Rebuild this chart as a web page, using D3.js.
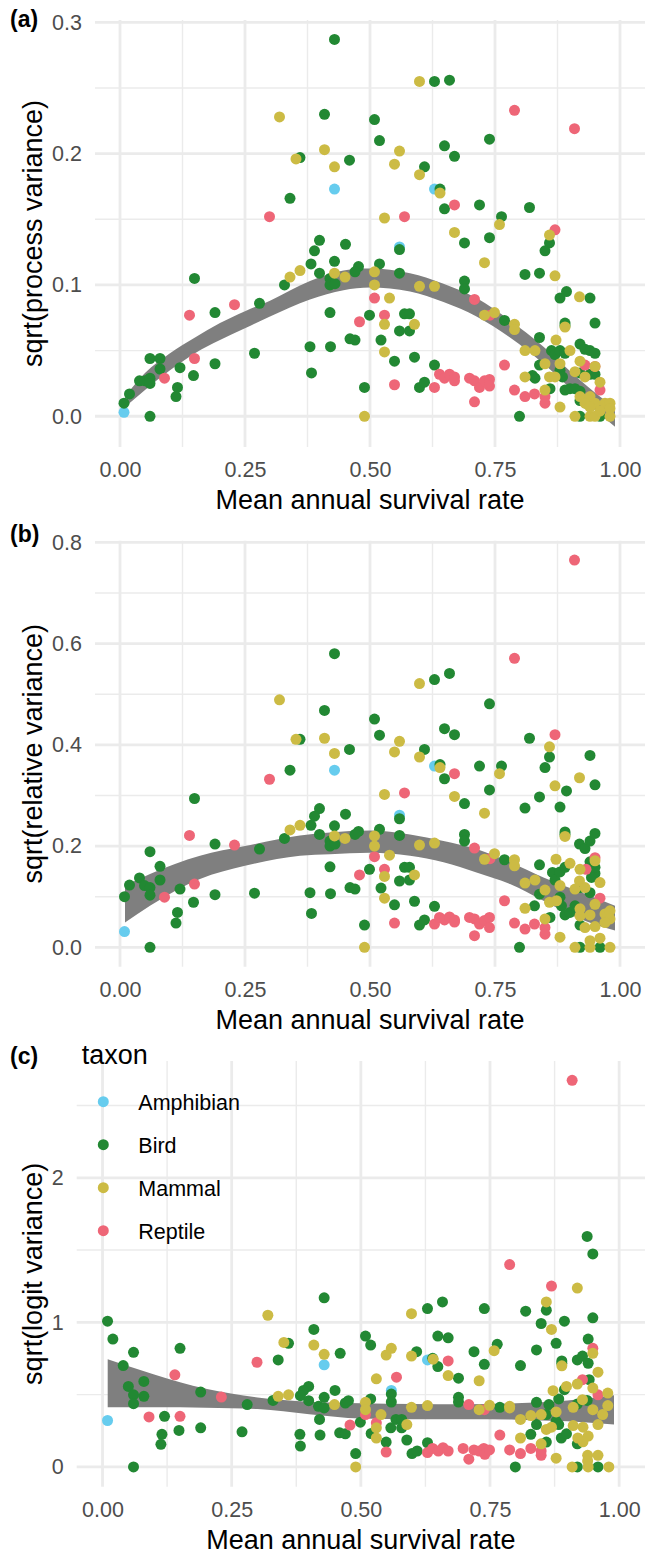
<!DOCTYPE html>
<html lang="en">
<head>
<meta charset="utf-8">
<script src="https://d3js.org/d3.v7.min.js"></script>
<style>
  body { margin: 0; background: #fff; }
  text { font-family: "Liberation Sans", Arial, sans-serif; }
</style>
</head>
<body>
<svg id="chart" width="645" height="1554"></svg>

<script>
// taxa and colours
const taxa = ["Amphibian", "Bird", "Mammal", "Reptile"];
const taxonColors = ["#66CCEE", "#228833", "#CCBB44", "#EE6677"];
const drawOrder = ["Amphibian", "Bird", "Reptile", "Mammal"];

const xTicks = [0, 0.25, 0.5, 0.75, 1];
const xTickLabels = ["0.00", "0.25", "0.50", "0.75", "1.00"];
const xMinor = [0.125, 0.375, 0.625, 0.875];

// ---- panel (a): sqrt(process variance), [survival, value]
const procAmphibian = [[0.008,0.003],[0.429,0.173],[0.559,0.129],[0.629,0.173]];
const procBird = [[0.008,0.010],[0.019,0.017],[0.039,0.027],[0.05,0.027],[0.06,0.029],[0.06,0.025],[0.06,0.044],[0.08,0.044],[0.08,0.036],[0.06,0.0],[0.12,0.037],[0.115,0.022],[0.112,0.015],[0.147,0.031],[0.149,0.105],[0.19,0.079],[0.19,0.040],[0.279,0.086],[0.269,0.048],[0.34,0.166],[0.36,0.197],[0.409,0.230],[0.399,0.134],[0.389,0.126],[0.382,0.116],[0.399,0.109],[0.329,0.100],[0.38,0.053],[0.383,0.033],
  [0.429,0.287],[0.459,0.195],[0.451,0.131],[0.429,0.118],[0.42,0.105],[0.42,0.100],[0.43,0.101],[0.477,0.114],[0.47,0.110],[0.42,0.079],[0.499,0.077],[0.46,0.059],[0.47,0.058],[0.421,0.053],[0.489,0.022],
  [0.509,0.226],[0.519,0.210],[0.559,0.127],[0.519,0.116],[0.559,0.109],[0.569,0.078],[0.579,0.078],[0.559,0.065],[0.579,0.065],[0.522,0.058],[0.549,0.042],[0.589,0.045],[0.599,0.022],[0.609,0.026],[0.629,0.039],
  [0.629,0.255],[0.659,0.256],[0.609,0.190],[0.64,0.173],[0.649,0.206],[0.669,0.198],[0.649,0.158],[0.689,0.132],[0.719,0.161],[0.739,0.211],[0.763,0.152],[0.739,0.136],[0.689,0.103],[0.689,0.097],[0.769,0.073],[0.799,0.0],
  [0.819,0.159],[0.859,0.132],[0.85,0.126],[0.81,0.108],[0.839,0.109],[0.893,0.095],[0.88,0.090],[0.94,0.090],[0.89,0.071],[0.89,0.069],[0.95,0.071],[0.839,0.060],[0.863,0.050],[0.87,0.047],[0.92,0.055],[0.93,0.051],[0.94,0.050],[0.95,0.048],[0.88,0.050],[0.89,0.048],[0.839,0.039],[0.825,0.031],[0.83,0.029],[0.88,0.035],[0.885,0.030],[0.86,0.021],[0.89,0.020],[0.9,0.021],[0.92,0.033],[0.94,0.032],[0.95,0.032],[0.92,0.019],[0.91,0.021],[0.92,0.012],[0.92,0.0],[0.96,0.0],[0.932,0.010]];
const procMammal = [[0.319,0.228],[0.352,0.196],[0.409,0.203],[0.36,0.111],[0.34,0.106],[0.429,0.190],[0.429,0.109],[0.45,0.106],[0.489,0.0],[0.559,0.202],[0.549,0.192],[0.529,0.151],[0.509,0.110],[0.509,0.100],[0.539,0.090],[0.529,0.070],[0.589,0.070],[0.529,0.049],[0.599,0.255],[0.599,0.184],[0.64,0.170],[0.669,0.140],[0.759,0.146],[0.729,0.117],[0.599,0.099],[0.629,0.099],[0.729,0.077],[0.749,0.079],[0.789,0.070],[0.789,0.066],
  [0.859,0.138],[0.87,0.107],[0.919,0.091],[0.89,0.068],[0.872,0.058],[0.81,0.050],[0.83,0.050],[0.9,0.050],[0.81,0.030],[0.85,0.040],[0.88,0.040],[0.859,0.030],[0.87,0.030],[0.85,0.020],[0.88,0.007],[0.92,0.042],[0.91,0.034],[0.93,0.030],[0.95,0.038],[0.96,0.026],[0.92,0.015],[0.94,0.015],[0.93,0.010],[0.95,0.010],[0.97,0.010],[0.98,0.010],[0.98,0.006],[0.91,0.0],[0.94,0.0],[0.95,0.0],[0.98,0.0],[0.94,0.007],[0.96,0.004]];
const procReptile = [[0.089,0.029],[0.149,0.044],[0.139,0.077],[0.229,0.085],[0.299,0.152],[0.479,0.072],[0.569,0.152],[0.509,0.090],[0.529,0.077],[0.549,0.024],[0.629,0.022],[0.639,0.032],[0.649,0.029],[0.659,0.032],[0.669,0.027],[0.669,0.030],[0.699,0.029],[0.709,0.027],[0.719,0.022],[0.729,0.027],[0.739,0.028],[0.739,0.023],[0.709,0.011],[0.669,0.161],[0.709,0.089],[0.74,0.077],[0.769,0.039],[0.789,0.020],[0.81,0.015],[0.829,0.017],[0.85,0.015],[0.85,0.010],[0.789,0.233],[0.909,0.219],[0.87,0.142],[0.93,0.039],[0.95,0.038],[0.96,0.020]];
const procRibX  = [0.01, 0.05, 0.1, 0.15, 0.2, 0.25, 0.3, 0.38, 0.447, 0.5, 0.58, 0.647, 0.713, 0.78, 0.847, 0.913, 0.99];
const procRibLo = [0.007, 0.020, 0.035, 0.048, 0.058, 0.067, 0.076, 0.089, 0.096, 0.098, 0.095, 0.087, 0.076, 0.060, 0.040, 0.017, -0.008];
const procRibHi = [0.015, 0.033, 0.048, 0.060, 0.071, 0.080, 0.088, 0.103, 0.111, 0.1125, 0.109, 0.101, 0.090, 0.073, 0.053, 0.030, 0.006];

// ---- panel (b): sqrt(relative variance)
const relAmphibian = [[0.009,0.031],[0.429,0.350],[0.559,0.261],[0.629,0.358]];
const relBird = [[0.009,0.100],[0.019,0.123],[0.039,0.137],[0.049,0.122],[0.06,0.118],[0.06,0.103],[0.06,0.189],[0.08,0.160],[0.08,0.133],[0.06,0.0],[0.12,0.115],[0.115,0.069],[0.112,0.048],[0.147,0.089],[0.149,0.294],[0.19,0.204],[0.19,0.104],[0.279,0.194],[0.269,0.107],[0.34,0.350],[0.36,0.411],[0.409,0.468],[0.399,0.274],[0.389,0.259],[0.382,0.241],[0.399,0.223],[0.329,0.215],[0.38,0.108],[0.383,0.067],
  [0.429,0.580],[0.459,0.391],[0.451,0.263],[0.429,0.240],[0.42,0.210],[0.42,0.200],[0.43,0.204],[0.477,0.229],[0.47,0.223],[0.42,0.159],[0.499,0.154],[0.46,0.118],[0.47,0.115],[0.421,0.106],[0.489,0.044],
  [0.509,0.451],[0.519,0.419],[0.559,0.254],[0.519,0.233],[0.559,0.221],[0.569,0.158],[0.579,0.158],[0.559,0.131],[0.579,0.133],[0.522,0.117],[0.549,0.084],[0.589,0.091],[0.599,0.044],[0.609,0.054],[0.629,0.081],
  [0.629,0.529],[0.659,0.541],[0.609,0.391],[0.64,0.361],[0.649,0.432],[0.669,0.420],[0.649,0.333],[0.689,0.284],[0.719,0.358],[0.739,0.481],[0.763,0.358],[0.739,0.311],[0.689,0.223],[0.689,0.210],[0.769,0.173],[0.799,0.0],
  [0.819,0.413],[0.859,0.376],[0.85,0.355],[0.81,0.275],[0.839,0.297],[0.893,0.309],[0.88,0.277],[0.94,0.379],[0.89,0.228],[0.89,0.223],[0.95,0.321],[0.839,0.163],[0.865,0.148],[0.87,0.133],[0.919,0.204],[0.93,0.195],[0.94,0.210],[0.95,0.225],[0.88,0.149],[0.89,0.158],[0.839,0.105],[0.829,0.082],[0.88,0.099],[0.883,0.082],[0.86,0.059],[0.89,0.064],[0.9,0.069],[0.92,0.118],[0.94,0.108],[0.95,0.146],[0.943,0.138],[0.92,0.044],[0.91,0.082],[0.92,0.0],[0.96,0.0],[0.94,0.169],[0.95,0.158]];
const relMammal = [[0.319,0.489],[0.352,0.411],[0.409,0.413],[0.36,0.241],[0.34,0.232],[0.429,0.383],[0.429,0.220],[0.45,0.215],[0.489,0.0],[0.559,0.407],[0.549,0.386],[0.529,0.302],[0.509,0.220],[0.509,0.200],[0.539,0.182],[0.529,0.140],[0.589,0.143],[0.529,0.097],[0.599,0.521],[0.599,0.376],[0.64,0.355],[0.669,0.298],[0.759,0.343],[0.729,0.265],[0.599,0.202],[0.629,0.206],[0.729,0.174],[0.749,0.185],[0.789,0.173],[0.789,0.161],
  [0.859,0.396],[0.87,0.319],[0.919,0.335],[0.89,0.219],[0.872,0.174],[0.81,0.127],[0.83,0.133],[0.9,0.166],[0.81,0.077],[0.85,0.113],[0.88,0.122],[0.859,0.089],[0.873,0.092],[0.85,0.056],[0.88,0.020],[0.919,0.131],[0.91,0.115],[0.93,0.118],[0.95,0.171],[0.96,0.128],[0.92,0.062],[0.94,0.064],[0.93,0.039],[0.95,0.041],[0.97,0.066],[0.98,0.072],[0.98,0.056],[0.91,0.0],[0.94,0.013],[0.95,0.085],[0.98,0.0],[0.94,0.0],[0.96,0.018],[0.97,0.049],[0.92,0.154],[0.92,0.076]];
const relReptile = [[0.089,0.099],[0.149,0.125],[0.139,0.221],[0.229,0.202],[0.299,0.332],[0.479,0.143],[0.569,0.305],[0.509,0.179],[0.529,0.154],[0.549,0.048],[0.629,0.046],[0.639,0.059],[0.649,0.054],[0.659,0.060],[0.669,0.054],[0.669,0.050],[0.699,0.059],[0.709,0.056],[0.719,0.046],[0.729,0.053],[0.739,0.059],[0.739,0.039],[0.709,0.023],[0.669,0.343],[0.709,0.196],[0.74,0.175],[0.769,0.092],[0.789,0.048],[0.81,0.036],[0.829,0.046],[0.85,0.039],[0.85,0.026],[0.789,0.571],[0.909,0.765],[0.87,0.420],[0.932,0.154],[0.95,0.177],[0.96,0.097]];
const relRibX  = [0.01, 0.06, 0.16, 0.25, 0.36, 0.42, 0.5, 0.58, 0.647, 0.713, 0.78, 0.847, 0.913, 0.99];
const relRibLo = [0.049, 0.082, 0.135, 0.161, 0.181, 0.184, 0.187, 0.181, 0.168, 0.148, 0.125, 0.092, 0.059, 0.033];
const relRibHi = [0.122, 0.145, 0.181, 0.200, 0.221, 0.227, 0.231, 0.223, 0.210, 0.194, 0.168, 0.138, 0.112, 0.082];

// ---- panel (c): sqrt(logit variance)
const logitAmphibian = [[0.0097,0.321],[0.429,0.706],[0.559,0.529],[0.629,0.740]];
const logitBird = [[0.0097,1.008],[0.02,0.884],[0.04,0.701],[0.05,0.557],[0.06,0.499],[0.06,0.437],[0.06,0.793],[0.08,0.591],[0.08,0.488],[0.06,0.0],[0.12,0.350],[0.115,0.225],[0.113,0.156],[0.148,0.252],[0.15,0.820],[0.19,0.518],[0.19,0.270],[0.28,0.431],[0.27,0.243],[0.34,0.740],[0.36,0.855],[0.429,1.170],[0.409,0.951],[0.399,0.557],[0.389,0.529],[0.383,0.493],[0.399,0.458],[0.33,0.460],[0.382,0.225],[0.383,0.144],[0.421,0.220],[0.42,0.328],[0.418,0.419],[0.429,0.408],[0.429,0.481],
  [0.46,0.786],[0.45,0.529],[0.476,0.458],[0.47,0.442],[0.459,0.236],[0.47,0.229],[0.499,0.309],[0.49,0.092],[0.509,0.905],[0.519,0.843],[0.559,0.504],[0.559,0.449],[0.519,0.470],[0.568,0.328],[0.579,0.328],[0.579,0.270],[0.558,0.270],[0.52,0.231],[0.549,0.172],[0.589,0.186],[0.599,0.092],[0.609,0.110],[0.629,0.167],
  [0.629,1.095],[0.658,1.141],[0.649,0.905],[0.669,0.893],[0.608,0.797],[0.639,0.751],[0.649,0.694],[0.689,0.614],[0.719,0.797],[0.739,1.095],[0.764,0.848],[0.739,0.710],[0.689,0.481],[0.689,0.449],[0.769,0.412],[0.799,0.0],
  [0.819,1.077],[0.859,1.084],[0.849,0.992],[0.84,0.809],[0.809,0.701],[0.894,1.008],[0.878,0.855],[0.938,1.594],[0.949,1.473],[0.949,1.031],[0.889,0.733],[0.889,0.717],[0.94,0.884],[0.919,0.740],[0.929,0.767],[0.94,0.717],[0.942,0.603],[0.84,0.447],[0.864,0.431],[0.859,0.362],[0.883,0.470],[0.894,0.534],[0.938,0.460],[0.919,0.435],[0.84,0.293],[0.829,0.225],[0.878,0.316],[0.883,0.293],[0.859,0.172],[0.888,0.200],[0.898,0.229],[0.919,0.160],[0.919,0.0],[0.959,0.0]];
const logitMammal = [[0.32,1.049],[0.351,0.861],[0.409,0.843],[0.36,0.499],[0.34,0.488],[0.429,0.779],[0.449,0.431],[0.49,0.0],[0.559,0.820],[0.549,0.774],[0.53,0.609],[0.509,0.447],[0.509,0.396],[0.539,0.362],[0.53,0.270],[0.589,0.293],[0.53,0.200],[0.598,1.060],[0.598,0.767],[0.64,0.745],[0.669,0.632],[0.758,0.804],[0.729,0.596],[0.598,0.412],[0.629,0.424],[0.729,0.396],[0.749,0.426],[0.788,0.419],[0.788,0.408],
  [0.859,1.141],[0.869,0.951],[0.919,1.237],[0.889,0.699],[0.872,0.527],[0.809,0.328],[0.829,0.355],[0.898,0.557],[0.809,0.200],[0.849,0.362],[0.878,0.380],[0.859,0.259],[0.869,0.275],[0.849,0.160],[0.878,0.060],[0.919,0.573],[0.911,0.412],[0.929,0.465],[0.949,0.786],[0.959,0.655],[0.949,0.545],[0.911,0.286],[0.93,0.275],[0.94,0.213],[0.93,0.174],[0.92,0.200],[0.978,0.511],[0.978,0.424],[0.968,0.362],[0.949,0.396],[0.959,0.293],[0.909,0.0],[0.94,0.0],[0.98,0.0],[0.939,0.080],[0.959,0.080],[0.939,0.041]];
const logitReptile = [[0.09,0.346],[0.15,0.350],[0.14,0.637],[0.23,0.483],[0.299,0.724],[0.479,0.289],[0.569,0.621],[0.509,0.362],[0.53,0.305],[0.549,0.103],[0.629,0.099],[0.639,0.128],[0.65,0.110],[0.659,0.133],[0.669,0.110],[0.698,0.128],[0.709,0.053],[0.719,0.117],[0.729,0.110],[0.738,0.128],[0.74,0.087],[0.749,0.117],[0.669,0.733],[0.709,0.431],[0.739,0.396],[0.769,0.220],[0.788,0.117],[0.809,0.092],[0.829,0.128],[0.849,0.110],[0.849,0.080],[0.788,1.400],[0.909,2.674],[0.869,1.251],[0.929,0.603],[0.949,0.820],[0.959,0.499]];
const logitRibX  = [0.01, 0.1, 0.2, 0.3, 0.4, 0.5, 0.6, 0.7, 0.8, 0.9, 0.99];
const logitRibLo = [0.412, 0.412, 0.410, 0.400, 0.365, 0.335, 0.330, 0.330, 0.327, 0.315, 0.293];
const logitRibHi = [0.745, 0.640, 0.540, 0.480, 0.450, 0.440, 0.435, 0.433, 0.440, 0.460, 0.495];

const svg = d3.select("#chart");
svg.append("rect").attr("width", 645).attr("height", 1554).attr("fill", "#fff");

const color = d3.scaleOrdinal().domain(taxa).range(taxonColors);
const gridCol = "#EBEBEB";

function drawPanel(cfg) {
  const x = d3.scaleLinear().domain([-0.05, 1.05]).range([cfg.left, 645]);
  const y = d3.scaleLinear().domain(cfg.yDomain).range([cfg.bottom, cfg.top]);
  const g = svg.append("g");

  // grid
  g.selectAll(null).data(xMinor).join("line")
    .attr("x1", d => x(d)).attr("x2", d => x(d))
    .attr("y1", cfg.top).attr("y2", cfg.bottom)
    .attr("stroke", gridCol).attr("stroke-width", 1.4);
  g.selectAll(null).data(cfg.yMinor).join("line")
    .attr("x1", cfg.left).attr("x2", 645)
    .attr("y1", d => y(d)).attr("y2", d => y(d))
    .attr("stroke", gridCol).attr("stroke-width", 1.4);
  g.selectAll(null).data(xTicks).join("line")
    .attr("x1", d => x(d)).attr("x2", d => x(d))
    .attr("y1", cfg.top).attr("y2", cfg.bottom)
    .attr("stroke", gridCol).attr("stroke-width", 2.8);
  g.selectAll(null).data(cfg.yTicks).join("line")
    .attr("x1", cfg.left).attr("x2", 645)
    .attr("y1", d => y(d)).attr("y2", d => y(d))
    .attr("stroke", gridCol).attr("stroke-width", 2.8);

  // smoother ribbon
  const rib = cfg.ribX.map((v, i) => ({x: v, lo: cfg.ribLo[i], hi: cfg.ribHi[i]}));
  const area = d3.area()
    .x(d => x(d.x)).y0(d => y(d.lo)).y1(d => y(d.hi))
    .curve(d3.curveMonotoneX);
  g.append("path").datum(rib).attr("d", area).attr("fill", "#7F7F7F");

  // points
  drawOrder.forEach(t => {
    g.selectAll(null).data(cfg.points[t]).join("circle")
      .attr("cx", d => x(d[0])).attr("cy", d => y(d[1]))
      .attr("r", 5.5).attr("fill", color(t));
  });

  // axes
  const ax = g.append("g").attr("transform", `translate(${cfg.left},0)`)
    .call(d3.axisLeft(y).tickValues(cfg.yTicks).tickFormat((d, i) => cfg.yLabels[i]).tickSize(0).tickPadding(13));
  const bx = g.append("g").attr("transform", `translate(0,${cfg.bottom})`)
    .call(d3.axisBottom(x).tickValues(xTicks).tickFormat((d, i) => xTickLabels[i]).tickSize(0).tickPadding(15));
  [ax, bx].forEach(a => {
    a.select(".domain").remove();
    a.selectAll("text").attr("fill", "#4D4D4D").style("font-size", "21.5px")
      .style("font-family", '"Liberation Sans", Arial, sans-serif');
  });

  // titles
  g.append("text")
    .attr("x", (cfg.left + 645) / 2).attr("y", cfg.bottom + 62)
    .attr("text-anchor", "middle").style("font-size", "27px").attr("fill", "#000")
    .text("Mean annual survival rate");
  g.append("text")
    .attr("transform", `translate(42,${(cfg.top + cfg.bottom) / 2}) rotate(-90)`)
    .attr("text-anchor", "middle").style("font-size", "27px").attr("fill", "#000")
    .text(cfg.yTitle);
  g.append("text")
    .attr("x", 10).attr("y", cfg.tagY)
    .style("font-size", "23px").style("font-weight", "bold").attr("fill", "#000")
    .text(cfg.tag);
}

drawPanel({
  left: 95, top: 20, bottom: 447, yDomain: [-0.0234, 0.3018],
  yTicks: [0, 0.1, 0.2, 0.3], yLabels: ["0.0", "0.1", "0.2", "0.3"], yMinor: [0.05, 0.15, 0.25],
  ribX: procRibX, ribLo: procRibLo, ribHi: procRibHi,
  points: {Amphibian: procAmphibian, Bird: procBird, Mammal: procMammal, Reptile: procReptile},
  yTitle: "sqrt(process variance)", tag: "(a)", tagY: 27
});

drawPanel({
  left: 95, top: 540.7, bottom: 966.7, yDomain: [-0.0383, 0.8033],
  yTicks: [0, 0.2, 0.4, 0.6, 0.8], yLabels: ["0.0", "0.2", "0.4", "0.6", "0.8"], yMinor: [0.1, 0.3, 0.5, 0.7],
  ribX: relRibX, ribLo: relRibLo, ribHi: relRibHi,
  points: {Amphibian: relAmphibian, Bird: relBird, Mammal: relMammal, Reptile: relReptile},
  yTitle: "sqrt(relative variance)", tag: "(b)", tagY: 541.5
});

drawPanel({
  left: 76.7, top: 1061, bottom: 1486.7, yDomain: [-0.137, 2.808],
  yTicks: [0, 1, 2], yLabels: ["0", "1", "2"], yMinor: [0.5, 1.5, 2.5],
  ribX: logitRibX, ribLo: logitRibLo, ribHi: logitRibHi,
  points: {Amphibian: logitAmphibian, Bird: logitBird, Mammal: logitMammal, Reptile: logitReptile},
  yTitle: "sqrt(logit variance)", tag: "(c)", tagY: 1064
});

// legend (inside panel c, top-left)
const leg = svg.append("g");
leg.append("text").attr("x", 81.7).attr("y", 1064)
  .style("font-size", "27px").attr("fill", "#000").text("taxon");
const items = leg.selectAll(null).data(taxa).join("g")
  .attr("transform", (d, i) => `translate(103.3,${1101.7 + i * 43})`);
items.append("circle").attr("r", 5.5).attr("fill", d => color(d));
items.append("text").attr("x", 35).attr("y", 8)
  .style("font-size", "21.5px").attr("fill", "#000").text(d => d);
</script>
</body>
</html>
